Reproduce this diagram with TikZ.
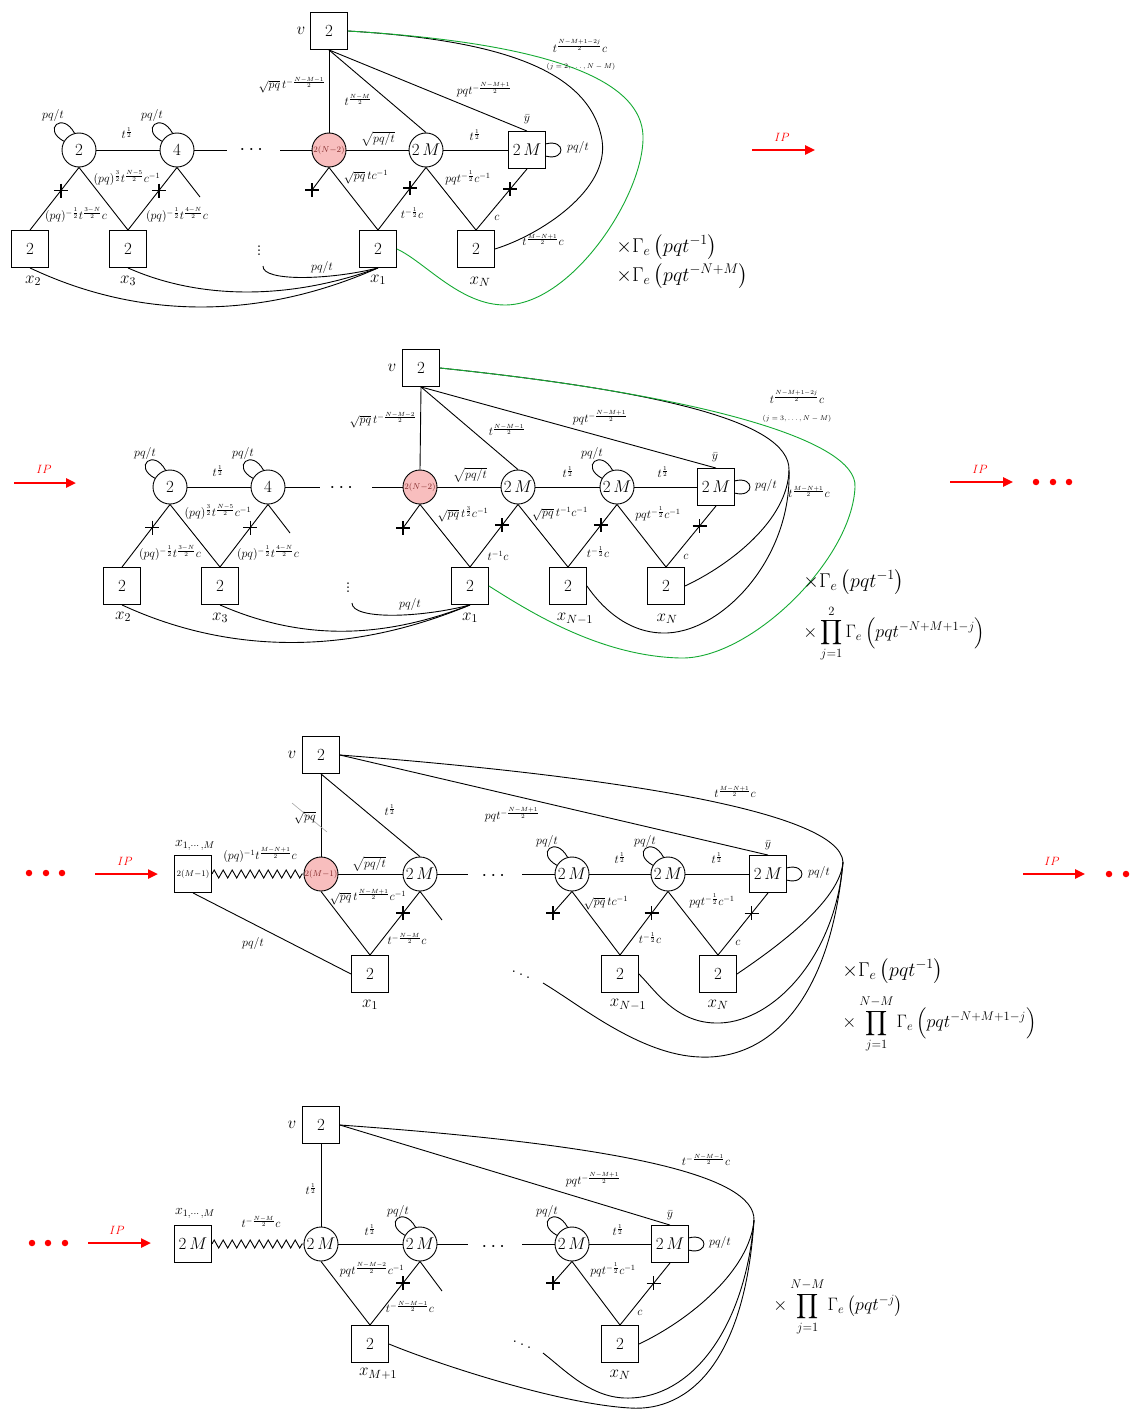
\RequirePackage{fix-cm}
\documentclass[tikz,border=0pt]{standalone}
\usepackage{amsmath}
\usetikzlibrary{arrows.meta,decorations.pathmorphing,calc}
\definecolor{rednode}{RGB}{248,190,190}
\definecolor{redtxt}{RGB}{130,40,40}
\definecolor{greenline}{RGB}{20,170,50}
\tikzset{
 gc/.style={circle,draw,minimum size=34pt,inner sep=0pt,font=\fontsize{17}{19}\selectfont},
 rc/.style={gc,fill=rednode,font=\fontsize{8.5}{10}\selectfont,text=redtxt},
 sq/.style={rectangle,draw,minimum size=37pt,inner sep=0pt,font=\fontsize{17}{19}\selectfont},
 sqs/.style={sq,font=\fontsize{8.5}{10}\selectfont},
 lab/.style={inner sep=0.5pt,font=\fontsize{12}{14}\selectfont},
 tny/.style={inner sep=0pt,font=\fontsize{7}{8}\selectfont},
 xl/.style={inner sep=0pt,font=\fontsize{17}{19}\selectfont},
 vl/.style={inner sep=0pt,font=\fontsize{17}{19}\selectfont},
 dt/.style={inner sep=0pt,font=\fontsize{20}{22}\selectfont},
 big/.style={inner sep=0pt,anchor=west,font=\fontsize{20}{24}\selectfont},
 bigp/.style={inner sep=0pt,anchor=west,font=\fontsize{18}{22}\selectfont},
 ipa/.style={draw=red,line width=2.4pt,-{Triangle[length=10pt,width=9pt]}},
 ipl/.style={text=red,inner sep=0pt,font=\fontsize{12}{14}\selectfont},
 rdot/.style={circle,fill=red,inner sep=0pt,minimum size=6.5pt},
 zz/.style={decorate,decoration={zigzag,segment length=9pt,amplitude=4pt}},
 plusm/.pic={\draw[line width=1.4pt] (-7,0)--(7,0) (0,-7)--(0,7);},
}
\newcommand{\cirloop}[1]{\draw (#1.150) .. controls +(-22,-12) and +(-12,-22) .. (#1.105);}
\newcommand{\sqloop}[1]{\draw (#1.18) .. controls +(20,-5) and +(20,5) .. (#1.-18);}
\begin{document}
\begin{tikzpicture}[x=1pt,y=-1pt,line width=0.9pt]
\fill[white] (0,0) rectangle (1138,1410);
\useasboundingbox (0,0) rectangle (1138,1410);

%==================== Panel 1 ====================
\node[sq] (v1) at (329,31) {$2$};
\node[vl] (v1l) at (301,31) {$v$};
\node[gc] (a1) at (79,150) {$2$};
\node[gc] (b1) at (177,150) {$4$};
\node[rc] (r1) at (329,150) {$2(N{-}2)$};
\node[gc] (m1) at (426,150) {$2\,M$};
\node[sq] (y1) at (527,150) {$2\,M$};
\node[sq] (x21) at (30,249) {$2$};
\node[sq] (x31) at (128,249) {$2$};
\node[sq] (x11) at (378,249) {$2$};
\node[sq] (xN1) at (476,249) {$2$};
\coordinate (h1a) at (227,150); \coordinate (h1b) at (280,150);
\coordinate (f1a) at (200,197); \coordinate (f1b) at (312,190);
\coordinate (d1) at (263,266);
\draw (a1)--(b1) (b1)--(h1a) (h1b)--(r1) (r1)--(m1) (m1)--(y1);
\draw (v1.south)--(r1.north);
\draw (v1.south)--(m1.north);
\draw (v1.south)--(y1.north);
\draw (a1.south) -- coordinate[pos=.37] (k11) (x21.north);
\draw (a1.south) -- (x31.north);
\draw (b1.south) -- coordinate[pos=.37] (k12) (x31.north);
\draw (b1.south) -- (f1a);
\draw (r1.south) -- (f1b);
\draw (r1.south) -- (x11.north);
\draw (m1.south) -- coordinate[pos=.33] (k13) (x11.north);
\draw (m1.south) -- (xN1.north);
\draw (y1.south) -- coordinate[pos=.33] (k14) (xN1.north);
\foreach \k in {k11,k12,k13,k14,f1b} \pic at (\k) {plusm};
\cirloop{a1} \cirloop{b1} \sqloop{y1}
\draw (v1.east) .. controls (500,40) and (590,70) .. (602,140) .. controls (610,190) and (540,235) .. (xN1.east);
\draw[greenline] (v1.east) .. controls (580,45) and (645,90) .. (643,140) .. controls (641,200) and (570,305) .. (505,305) .. controls (460,305) and (425,262) .. (x11.east);
\draw (x21.south) .. controls (140,320) and (260,320) .. (x11.south);
\draw (x31.south) .. controls (200,300) and (290,300) .. (x11.south);
\draw (d1) .. controls (262,282) and (330,280) .. (x11.south);
\node[lab] (l101) at (53,116) {$pq/t$};
\node[lab] (l102) at (152,116) {$pq/t$};
\node[lab] (l103) at (127,133) {$t^{\frac12}$};
\node[lab] (l104) at (127,178) {$(pq)^{\frac32}t^{\frac{N-5}{2}}c^{-1}$};
\node[lab] (l105) at (76,215) {$(pq)^{-\frac12}t^{\frac{3-N}{2}}c$};
\node[lab] (l106) at (177,215) {$(pq)^{-\frac12}t^{\frac{4-N}{2}}c$};
\node[lab] (l107) at (292,85) {$\sqrt{pq}\,t^{-\frac{N-M-1}{2}}$};
\node[lab] (l108) at (358,100) {$t^{\frac{N-M}{2}}$};
\node[lab] (l109) at (378,139) {$\sqrt{pq/t}$};
\node[lab] (l110) at (366,177) {$\sqrt{pq}\,tc^{-1}$};
\node[lab] (l111) at (412,213) {$t^{-\frac12}c$};
\node[lab] (l112) at (468,178) {$pqt^{-\frac12}c^{-1}$};
\node[lab] (l113) at (497,218) {$c$};
\node[lab] (l114) at (475,135) {$t^{\frac12}$};
\node[lab] (l115) at (484,90) {$pqt^{-\frac{N-M+1}{2}}$};
\node[lab] (l116) at (527,119) {$\bar y$};
\node[lab] (l117) at (578,147) {$pq/t$};
\node[lab] (l118) at (580,46) {$t^{\frac{N-M+1-2j}{2}}c$};
\node[tny] (l119) at (581,67) {$(j=2,\ldots,N-M)$};
\node[lab] (l120) at (543,240) {$t^{\frac{M-N+1}{2}}c$};
\node[lab] (l121) at (322,267) {$pq/t$};
\node[xl] (l122) at (33,281) {$x_2$};
\node[xl] (l123) at (128,281) {$x_3$};
\node[xl] (l124) at (378,280) {$x_1$};
\node[xl] (l125) at (480,282) {$x_N$};
\node[dt] (l126) at (259,248) {$\vdots$};
\node[dt] (l127) at (253,150) {$\cdots$};
\node[big] (g11) at (616,247) {$\times\Gamma_e\left(pqt^{-1}\right)$};
\node[big] (g12) at (616,276) {$\times\Gamma_e\left(pqt^{-N+M}\right)$};
\coordinate (ip1s) at (752,150); \coordinate (ip1e) at (815,150);
\draw[ipa] (ip1s) -- (ip1e);
\node[ipl] (ipl1) at (782,137) {$IP$};

%==================== Panel 2 ====================
\node[sq] (v2) at (421,368) {$2$};
\node[vl] (v2l) at (392,368) {$v$};
\node[gc] (a2) at (170,487) {$2$};
\node[gc] (b2) at (268,487) {$4$};
\node[rc] (r2) at (420,487) {$2(N{-}2)$};
\node[gc] (m2a) at (518,487) {$2\,M$};
\node[gc] (m2b) at (617,487) {$2\,M$};
\node[sq] (y2) at (716,487) {$2\,M$};
\node[sq] (x22) at (122,586) {$2$};
\node[sq] (x32) at (220,586) {$2$};
\node[sq] (x12) at (470,586) {$2$};
\node[sq] (xNm12) at (568,586) {$2$};
\node[sq] (xN2) at (666,586) {$2$};
\coordinate (h2a) at (320,487); \coordinate (h2b) at (372,487);
\coordinate (f2a) at (290,533); \coordinate (f2b) at (403,528);
\coordinate (d2) at (352,603); \coordinate (p2) at (789,470);
\draw (a2)--(b2) (b2)--(h2a) (h2b)--(r2) (r2)--(m2a) (m2a)--(m2b) (m2b)--(y2);
\draw (v2.south)--(r2.north);
\draw (v2.south)--(m2a.north);
\draw (v2.south)--(y2.north);
\draw (a2.south) -- coordinate[pos=.37] (k21) (x22.north);
\draw (a2.south) -- (x32.north);
\draw (b2.south) -- coordinate[pos=.37] (k22) (x32.north);
\draw (b2.south) -- (f2a);
\draw (r2.south) -- (f2b);
\draw (r2.south) -- (x12.north);
\draw (m2a.south) -- coordinate[pos=.33] (k23) (x12.north);
\draw (m2a.south) -- (xNm12.north);
\draw (m2b.south) -- coordinate[pos=.33] (k24) (xNm12.north);
\draw (m2b.south) -- (xN2.north);
\draw (y2.south) -- coordinate[pos=.33] (k25) (xN2.north);
\foreach \k in {k21,k22,k23,k24,k25,f2b} \pic at (\k) {plusm};
\cirloop{a2} \cirloop{b2} \cirloop{m2b} \sqloop{y2}
\draw (v2.east) .. controls (650,390) and (790,420) .. (p2) .. controls (788,520) and (730,565) .. (xN2.east);
\draw (p2) .. controls (792,560) and (720,635) .. (662,633) .. controls (625,632) and (600,605) .. (xNm12.east);
\draw[greenline] (v2.east) .. controls (700,395) and (858,440) .. (855,487) .. controls (852,560) and (750,660) .. (680,658) .. controls (600,656) and (530,612) .. (x12.east);
\draw (x22.south) .. controls (230,655) and (350,655) .. (x12.south);
\draw (x32.south) .. controls (300,640) and (380,640) .. (x12.south);
\draw (d2) .. controls (352,620) and (420,618) .. (x12.south);
\node[lab] (l201) at (145,453) {$pq/t$};
\node[lab] (l202) at (243,453) {$pq/t$};
\node[lab] (l203) at (218,471) {$t^{\frac12}$};
\node[lab] (l204) at (218,512) {$(pq)^{\frac32}t^{\frac{N-5}{2}}c^{-1}$};
\node[lab] (l205) at (170,553) {$(pq)^{-\frac12}t^{\frac{3-N}{2}}c$};
\node[lab] (l206) at (268,553) {$(pq)^{-\frac12}t^{\frac{4-N}{2}}c$};
\node[lab] (l207) at (383,420) {$\sqrt{pq}\,t^{-\frac{N-M-2}{2}}$};
\node[lab] (l208) at (507,430) {$t^{\frac{N-M-1}{2}}$};
\node[lab] (l209) at (600,418) {$pqt^{-\frac{N-M+1}{2}}$};
\node[lab] (l210) at (470,475) {$\sqrt{pq/t}$};
\node[lab] (l211) at (568,472) {$t^{\frac12}$};
\node[lab] (l212) at (592,453) {$pq/t$};
\node[lab] (l213) at (663,472) {$t^{\frac12}$};
\node[lab] (l214) at (715,457) {$\bar y$};
\node[lab] (l215) at (766,485) {$pq/t$};
\node[lab] (l216) at (463,514) {$\sqrt{pq}\,t^{\frac32}c^{-1}$};
\node[lab] (l217) at (560,514) {$\sqrt{pq}\,t^{-1}c^{-1}$};
\node[lab] (l218) at (658,514) {$pqt^{-\frac12}c^{-1}$};
\node[lab] (l219) at (498,556) {$t^{-1}c$};
\node[lab] (l220) at (598,552) {$t^{-\frac12}c$};
\node[lab] (l221) at (686,557) {$c$};
\node[lab] (l222) at (797,397) {$t^{\frac{N-M+1-2j}{2}}c$};
\node[tny] (l223) at (797,419) {$(j=3,\ldots,N-M)$};
\node[lab] (l224) at (809,492) {$t^{\frac{M-N+1}{2}}c$};
\node[lab] (l225) at (410,604) {$pq/t$};
\node[xl] (l226) at (123,617) {$x_2$};
\node[xl] (l227) at (220,618) {$x_3$};
\node[xl] (l228) at (470,618) {$x_1$};
\node[xl] (l229) at (575,619) {$x_{N-1}$};
\node[xl] (l230) at (667,619) {$x_N$};
\node[dt] (l231) at (348,585) {$\vdots$};
\node[dt] (l232) at (343,488) {$\cdots$};
\node[big] (g21) at (803,582) {$\times\Gamma_e\left(pqt^{-1}\right)$};
\node[bigp] (g22) at (803,634) {$\times\displaystyle\prod_{j=1}^{2}\Gamma_e\left(pqt^{-N+M+1-j}\right)$};
\coordinate (ip2s) at (14,483); \coordinate (ip2e) at (76,483);
\draw[ipa] (ip2s) -- (ip2e);
\node[ipl] (ipl2) at (44,469) {$IP$};
\coordinate (ip3s) at (950,482); \coordinate (ip3e) at (1013,482);
\draw[ipa] (ip3s) -- (ip3e);
\node[ipl] (ipl3) at (980,469) {$IP$};
\node[rdot] (rd21) at (1036,482) {};
\node[rdot] (rd22) at (1053,482) {};
\node[rdot] (rd23) at (1069,482) {};

%==================== Panel 3 ====================
\node[sq] (v3) at (321,755) {$2$};
\node[vl] (v3l) at (292,755) {$v$};
\node[sqs] (s3) at (193,874) {$2(M{-}1)$};
\node[rc] (r3) at (321,874) {$2(M{-}1)$};
\node[gc] (m3a) at (420,874) {$2\,M$};
\node[gc] (m3b) at (572,874) {$2\,M$};
\node[gc] (m3c) at (668,874) {$2\,M$};
\node[sq] (y3) at (768,874) {$2\,M$};
\node[sq] (x13) at (370,974) {$2$};
\node[sq] (xNm13) at (620,974) {$2$};
\node[sq] (xN3) at (718,974) {$2$};
\coordinate (h3a) at (468,874); \coordinate (h3b) at (522,874);
\coordinate (f3a) at (442,920); \coordinate (f3b) at (553,913);
\coordinate (p3) at (843,862); \coordinate (c3) at (543,983);
\coordinate (sk1) at (292,803); \coordinate (sk2) at (327,832);
\draw[zz] (s3.east) -- (r3.west);
\draw (s3.south) -- (x13.west);
\draw (v3.south) -- (r3.north);
\draw (v3.south) -- (m3a.north);
\draw (v3.east) -- (y3.north);
\draw (r3)--(m3a) (m3a)--(h3a) (h3b)--(m3b) (m3b)--(m3c) (m3c)--(y3);
\draw (r3.south) -- (x13.north);
\draw (m3a.south) -- coordinate[pos=.34] (k31) (x13.north);
\draw (m3a.south) -- (f3a);
\draw (m3b.south) -- (f3b);
\draw (m3b.south) -- (xNm13.north);
\draw (m3c.south) -- coordinate[pos=.34] (k32) (xNm13.north);
\draw (m3c.south) -- (xN3.north);
\draw (y3.south) -- coordinate[pos=.33] (k33) (xN3.north);
\foreach \k in {k31,k32,k33,f3b} \pic at (\k) {plusm};
\cirloop{m3b} \cirloop{m3c} \sqloop{y3}
\draw (v3.east) .. controls (600,775) and (840,810) .. (p3);
\draw (p3) .. controls (840,900) and (780,945) .. (xN3.east);
\draw (p3) .. controls (835,960) and (770,1025) .. (715,1023) .. controls (675,1022) and (655,990) .. (xNm13.east);
\draw (p3) .. controls (830,1000) and (770,1060) .. (700,1057) .. controls (640,1055) and (580,1005) .. (c3);
\draw[gray!70,line width=0.6pt] (sk1) -- (sk2);
\node[xl,font=\fontsize{14}{16}\selectfont] (l301) at (195,845) {$x_{1,\cdots,M}$};
\node[lab] (l302) at (260,855) {$(pq)^{-1}t^{\frac{M-N+1}{2}}c$};
\node[lab] (l303) at (305,818) {$\sqrt{pq}$};
\node[lab] (l304) at (390,810) {$t^{\frac12}$};
\node[lab] (l305) at (369,864) {$\sqrt{pq/t}$};
\node[lab] (l306) at (368,897) {$\sqrt{pq}\,t^{\frac{N-M+1}{2}}c^{-1}$};
\node[lab] (l307) at (407,939) {$t^{-\frac{N-M}{2}}c$};
\node[lab] (l308) at (253,943) {$pq/t$};
\node[lab] (l309) at (512,815) {$pqt^{-\frac{N-M+1}{2}}$};
\node[lab] (l310) at (735,792) {$t^{\frac{M-N+1}{2}}c$};
\node[lab] (l311) at (547,841) {$pq/t$};
\node[lab] (l312) at (645,841) {$pq/t$};
\node[lab] (l313) at (620,858) {$t^{\frac12}$};
\node[lab] (l314) at (717,858) {$t^{\frac12}$};
\node[lab] (l315) at (768,845) {$\bar y$};
\node[lab] (l316) at (819,872) {$pq/t$};
\node[lab] (l317) at (606,903) {$\sqrt{pq}\,tc^{-1}$};
\node[lab] (l318) at (712,901) {$pqt^{-\frac12}c^{-1}$};
\node[lab] (l319) at (650,938) {$t^{-\frac12}c$};
\node[lab] (l320) at (738,943) {$c$};
\node[xl] (l321) at (370,1005) {$x_1$};
\node[xl] (l322) at (628,1005) {$x_{N-1}$};
\node[xl] (l323) at (718,1005) {$x_N$};
\node[dt] (l324) at (521,972) {$\ddots$};
\node[dt] (l325) at (495,876) {$\cdots$};
\node[big] (g31) at (842,971) {$\times\Gamma_e\left(pqt^{-1}\right)$};
\node[bigp] (g32) at (842,1024) {$\times\displaystyle\prod_{j=1}^{N-M}\Gamma_e\left(pqt^{-N+M+1-j}\right)$};
\node[rdot] (rd31) at (29,873) {};
\node[rdot] (rd32) at (46,873) {};
\node[rdot] (rd33) at (62,873) {};
\coordinate (ip4s) at (95,874); \coordinate (ip4e) at (158,874);
\draw[ipa] (ip4s) -- (ip4e);
\node[ipl] (ipl4) at (125,861) {$IP$};
\coordinate (ip5s) at (1023,874); \coordinate (ip5e) at (1085,874);
\draw[ipa] (ip5s) -- (ip5e);
\node[ipl] (ipl5) at (1052,861) {$IP$};
\node[rdot] (rd34) at (1109,874) {};
\node[rdot] (rd35) at (1126,874) {};

%==================== Panel 4 ====================
\node[sq] (v4) at (321,1125) {$2$};
\node[vl] (v4l) at (292,1125) {$v$};
\node[sq] (s4) at (193,1244) {$2\,M$};
\node[gc] (c4a) at (321,1244) {$2\,M$};
\node[gc] (c4b) at (420,1244) {$2\,M$};
\node[gc] (c4c) at (572,1244) {$2\,M$};
\node[sq] (y4) at (670,1244) {$2\,M$};
\node[sq] (xM4) at (370,1344) {$2$};
\node[sq] (xN4) at (620,1344) {$2$};
\coordinate (h4a) at (468,1244); \coordinate (h4b) at (522,1244);
\coordinate (f4a) at (442,1291); \coordinate (f4b) at (553,1283);
\coordinate (p4) at (754,1220); \coordinate (c4) at (543,1353);
\draw[zz] (s4.east) -- (c4a.west);
\draw (v4.south) -- (c4a.north);
\draw (v4.east) -- (y4.north);
\draw (c4a)--(c4b) (c4b)--(h4a) (h4b)--(c4c) (c4c)--(y4);
\draw (c4a.south) -- (xM4.north);
\draw (c4b.south) -- coordinate[pos=.34] (k41) (xM4.north);
\draw (c4b.south) -- (f4a);
\draw (c4c.south) -- (f4b);
\draw (c4c.south) -- (xN4.north);
\draw (y4.south) -- coordinate[pos=.33] (k42) (xN4.north);
\foreach \k in {k41,k42,f4b} \pic at (\k) {plusm};
\cirloop{c4b} \cirloop{c4c} \sqloop{y4}
\draw (v4.east) .. controls (620,1145) and (755,1175) .. (p4);
\draw (p4) .. controls (750,1270) and (690,1320) .. (xN4.east);
\draw (p4) .. controls (745,1330) and (690,1400) .. (625,1398) .. controls (590,1397) and (565,1370) .. (c4);
\draw (p4) .. controls (745,1360) and (690,1412) .. (630,1408) .. controls (560,1404) and (440,1365) .. (xM4.east);
\node[xl,font=\fontsize{14}{16}\selectfont] (l401) at (195,1213) {$x_{1,\cdots,M}$};
\node[lab] (l402) at (261,1222) {$t^{-\frac{N-M}{2}}c$};
\node[lab] (l403) at (311,1189) {$t^{\frac12}$};
\node[lab] (l404) at (398,1211) {$pq/t$};
\node[lab] (l405) at (370,1230) {$t^{\frac12}$};
\node[lab] (l406) at (372,1270) {$pqt^{\frac{N-M-2}{2}}c^{-1}$};
\node[lab] (l407) at (410,1307) {$t^{-\frac{N-M-1}{2}}c$};
\node[xl] (l408) at (378,1374) {$x_{M+1}$};
\node[lab] (l409) at (593,1180) {$pqt^{-\frac{N-M+1}{2}}$};
\node[lab] (l410) at (706,1160) {$t^{-\frac{N-M-1}{2}}c$};
\node[lab] (l411) at (670,1215) {$\bar y$};
\node[lab] (l412) at (547,1211) {$pq/t$};
\node[lab] (l413) at (720,1242) {$pq/t$};
\node[lab] (l414) at (618,1230) {$t^{\frac12}$};
\node[lab] (l415) at (613,1270) {$pqt^{-\frac12}c^{-1}$};
\node[lab] (l416) at (640,1313) {$c$};
\node[xl] (l417) at (620,1375) {$x_N$};
\node[dt] (l418) at (522,1342) {$\ddots$};
\node[dt] (l419) at (495,1247) {$\cdots$};
\node[bigp] (g41) at (773,1307) {$\times\displaystyle\prod_{j=1}^{N-M}\Gamma_e\left(pqt^{-j}\right)$};
\node[rdot] (rd41) at (32,1243) {};
\node[rdot] (rd42) at (48,1243) {};
\node[rdot] (rd43) at (65,1243) {};
\coordinate (ip6s) at (88,1243); \coordinate (ip6e) at (151,1243);
\draw[ipa] (ip6s) -- (ip6e);
\node[ipl] (ipl6) at (117,1230) {$IP$};
\end{tikzpicture}
\end{document}
